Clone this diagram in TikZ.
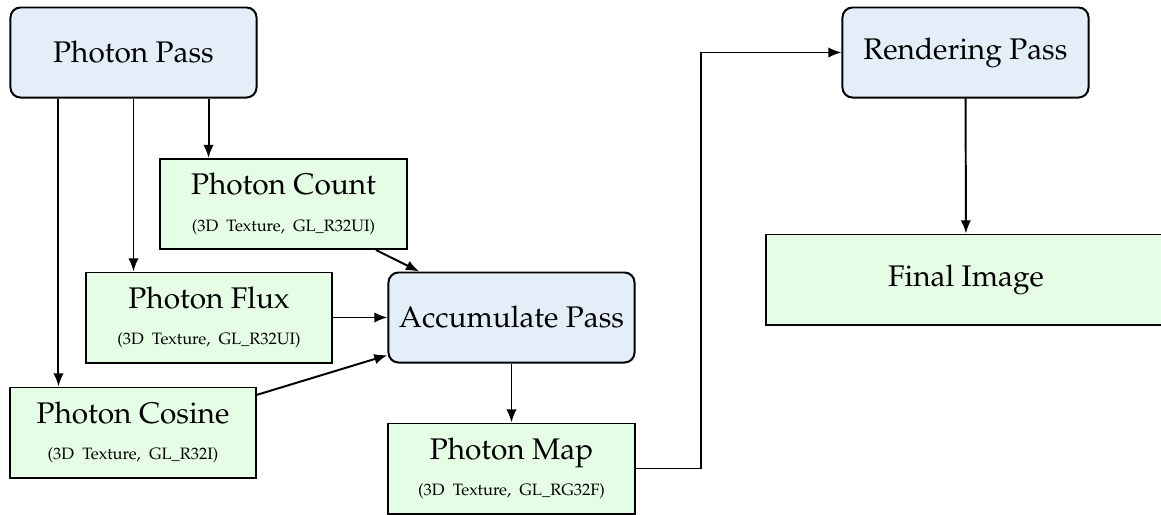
\documentclass[tikz,border=0pt]{standalone}
\usepackage[T1]{fontenc}
\usepackage{mathpazo}
\usetikzlibrary{arrows.meta,positioning}

\definecolor{passfill}{RGB}{228,238,248}
\definecolor{texfill}{RGB}{229,252,229}

\newcommand{\subtxt}[1]{{\fontsize{11.7}{13.5}\selectfont #1}}

\tikzset{
  base/.style={draw=black, line width=1.4pt, minimum width=6.15cm, minimum height=2.25cm,
    align=center, inner sep=2pt, font=\fontsize{21.2}{24}\selectfont},
  passbox/.style={base, fill=passfill, rounded corners=0.25cm},
  texbox/.style={base, fill=texfill},
  link/.style={line width=1.4pt, -{Latex[length=3.3mm,width=2.6mm]}}
}

\begin{document}
\begin{tikzpicture}[x=0.025cm, y=-0.025cm]
  \useasboundingbox (0,0) rectangle (1161,514);

  % render passes
  \node[passbox] (pass)   at (133.5,52.5)  {Photon Pass};
  \node[passbox] (accum)  at (511.5,317.5) {Accumulate Pass};
  \node[passbox] (render) at (965.5,52.5)  {Rendering Pass};

  % textures
  \node[texbox] (count)  at (283.5,204)   {Photon Count\\[2pt]\subtxt{(3D\ \ Texture,\ \ GL\_R32UI)}};
  \node[texbox] (flux)   at (209,317.5)   {Photon Flux\\[2pt]\subtxt{(3D\ \ Texture,\ \ GL\_R32UI)}};
  \node[texbox] (cosine) at (133,432.5)   {Photon Cosine\\[2pt]\subtxt{(3D\ \ Texture,\ \ GL\_R32I)}};
  \node[texbox] (map)    at (511.5,468.5) {Photon Map\\[2pt]\subtxt{(3D\ \ Texture,\ \ GL\_RG32F)}};
  \node[texbox, minimum width=10cm] (final) at (966,279.5) {Final Image};

  % photon pass writes three textures
  \coordinate (pL) at ([xshift=-1.875cm]pass.south);
  \coordinate (pR) at ([xshift=1.875cm]pass.south);
  \draw[link] (pL) -- (pL |- cosine.north);
  \draw[link] (pass.south) -- (pass.south |- flux.north);
  \draw[link] (pR) -- (pR |- count.north);

  % accumulation
  \draw[link] (count) -- (accum);
  \draw[link] (flux) -- (accum);
  \draw[link] (cosine) -- (accum);
  \draw[link] (accum) -- (map);

  % final rendering
  \coordinate (bend) at (701,468.5);
  \draw[link] (map.east) -- (bend) |- (render.west);
  \draw[link] (render) -- (final);
\end{tikzpicture}
\end{document}
